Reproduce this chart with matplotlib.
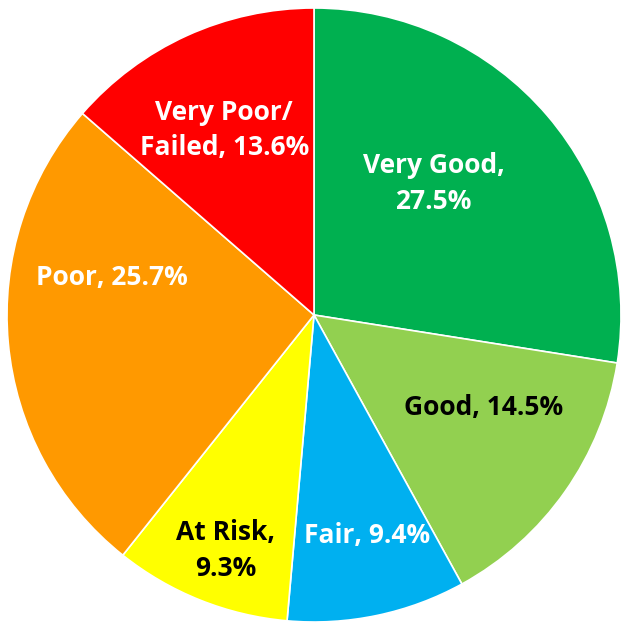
import numpy as np
import matplotlib.pyplot as plt

# slices, clockwise from 12 o'clock
labels = ["Very Good", "Good", "Fair", "At Risk", "Poor", "Very Poor/\nFailed"]
values = [27.5, 14.5, 9.4, 9.3, 25.7, 13.6]
colors = ["#00B050", "#92D050", "#00B0F0", "#FFFF00", "#FF9900", "#FF0000"]
text_colors = ["white", "black", "white", "black", "white", "white"]
# label layout: text break style, radius fraction, angle shift (deg)
label_fmt = ["{},\n{}%", "{}, {}%", "{}, {}%", "{},\n{}%", "{}, {}%", "{}, {}%"]
label_r = [0.58, 0.63, 0.74, 0.82, 0.67, 0.67]
label_shift = [7.3, 6.4, 1.6, 1.2, -15.7, 1.4]

W, H = 624, 627
cx, cy, R = 314, 315, 307

fig = plt.figure(figsize=(W / 100, H / 100), dpi=100)
ax = fig.add_axes([0, 0, 1, 1])

wedges, _ = ax.pie(values, colors=colors, startangle=90, counterclock=False,
                   radius=1, wedgeprops=dict(edgecolor="white", linewidth=1.2))

for w, lab, v, tc, fmt, r, sh in zip(wedges, labels, values, text_colors,
                                     label_fmt, label_r, label_shift):
    ang = np.deg2rad((w.theta1 + w.theta2) / 2 + sh)
    ax.text(r * np.cos(ang), r * np.sin(ang), fmt.format(lab, v),
            ha="center", va="center", color=tc, fontsize=19,
            fontweight="bold", family="Open Sans", linespacing=1.42)

ax.set_xlim(-cx / R, (W - cx) / R)
ax.set_ylim(-(H - cy) / R, cy / R)
ax.set_aspect("auto")
ax.axis("off")

fig.savefig("out.png", dpi=100)
